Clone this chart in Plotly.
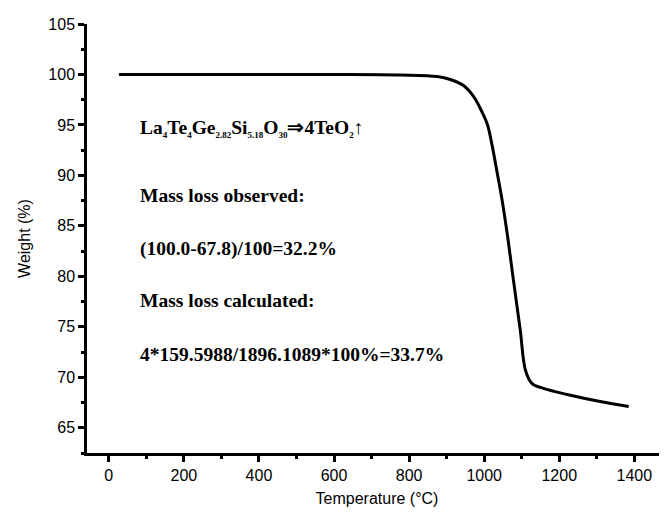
import plotly.graph_objects as go

# TGA curve
temperature = [27, 200, 400, 600, 777, 875, 910, 945, 972, 994, 1009, 1021, 1034, 1048,
               1063, 1078, 1096, 1110, 1127, 1158, 1221, 1309, 1385]
weight = [100.0, 100.0, 100.0, 100.0, 99.95, 99.8, 99.5, 98.9, 97.8, 96.3, 95.0, 93.0, 90.4, 87.5,
          83.8, 79.6, 74.7, 70.7, 69.4, 68.9, 68.3, 67.6, 67.1]


def sub(s):
    return "<sub><span style='font-size:9px'>" + s + "</span></sub>"


note_lines = [
    "La" + sub("4") + "Te" + sub("4") + "Ge" + sub("2.82") + "Si" + sub("5.18") + "O" + sub("30")
    + "\u21d24TeO" + sub("2") + "\u2191",
    "Mass loss observed:",
    "(100.0-67.8)/100=32.2%",
    "Mass loss calculated:",
    "4*159.5988/1896.1089*100%=33.7%",
]
note_y = [94.6, 88.05, 82.7, 77.6, 72.3]

fig = go.Figure()
fig.add_trace(go.Scatter(x=temperature, y=weight, mode="lines",
                         line=dict(color="black", width=3), line_shape="spline",
                         showlegend=False))

for txt, yy in zip(note_lines, note_y):
    fig.add_annotation(x=77, y=yy, text="<b>" + txt + "</b>", showarrow=False,
                       xanchor="left", yanchor="middle",
                       font=dict(family="Liberation Serif", size=19.5, color="black"))

axis_font = dict(family="Liberation Sans, Arial", size=16, color="black")

fig.update_xaxes(range=[-58, 1487], dtick=200, tick0=0,
                 showline=True, linewidth=2.5, linecolor="black",
                 ticks="outside", ticklen=6, tickwidth=2.5, tickcolor="black",
                 minor=dict(dtick=100, ticks="outside", ticklen=3, tickwidth=2.5, tickcolor="black"),
                 showgrid=False, zeroline=False, tickfont=axis_font,
                 title=dict(text="Temperature (\u00b0C)", font=axis_font, standoff=10))
fig.update_yaxes(range=[62.5, 105], dtick=5, tick0=65,
                 showline=True, linewidth=2.5, linecolor="black",
                 ticks="outside", ticklen=6, tickwidth=2.5, tickcolor="black",
                 minor=dict(dtick=2.5, ticks="outside", ticklen=3, tickwidth=2.5, tickcolor="black"),
                 showgrid=False, zeroline=False, tickfont=axis_font,
                 title=dict(text="Weight (%)", font=axis_font, standoff=14))

fig.update_layout(width=667, height=515, plot_bgcolor="white", paper_bgcolor="white",
                  margin=dict(l=79, r=8, t=14, b=70))

fig.write_html("out.html")
